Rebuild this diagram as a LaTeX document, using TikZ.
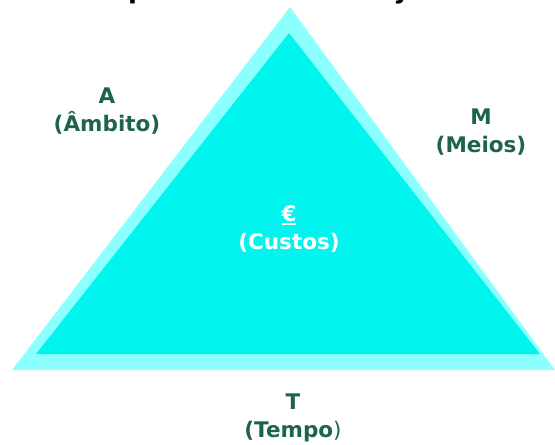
\documentclass[tikz,border=0pt]{standalone}
\usepackage{fontspec}
\setmainfont{DejaVu Sans}
\definecolor{outercyan}{RGB}{140,255,255}
\definecolor{innercyan}{RGB}{0,245,238}
\definecolor{labelgreen}{RGB}{30,100,75}
\newcommand{\myuline}[1]{\setbox0\hbox{#1}\rlap{\rule[-3.5pt]{\wd0}{2pt}}\box0}
\begin{document}
\begin{tikzpicture}[x=1pt,y=-1pt,
  lbl/.style={font=\fontsize{21.5}{28}\selectfont\bfseries, text=labelgreen, align=center, inner sep=0pt},
  wlbl/.style={font=\fontsize{21.5}{28}\selectfont\bfseries, text=white, align=center, inner sep=0pt},
  ttl/.style={font=\fontsize{26}{30}\selectfont\bfseries, text=black, anchor=base, inner sep=0pt}]
\useasboundingbox (0,0) rectangle (555,445);
\begin{scope}
\clip (0,0) rectangle (555,445);
\node[ttl] (title) at (283,-2) {Objectivos especificados de Projecto – triângulo};
\end{scope}
\fill[outercyan] (290,7) -- (555,370) -- (12,370) -- cycle;
\fill[innercyan] (289,33) -- (540,354) -- (36,354) -- cycle;
\node[lbl] (A) at (107,111) {A\\(Âmbito)};
\node[lbl] (M) at (481,132) {M\\(Meios)};
\node[wlbl] (C) at (289,229) {\myuline{€}\\(Custos)};
\node[lbl] (T) at (293,418) {T\\(Tempo{\mdseries )}};
\end{tikzpicture}
\end{document}
